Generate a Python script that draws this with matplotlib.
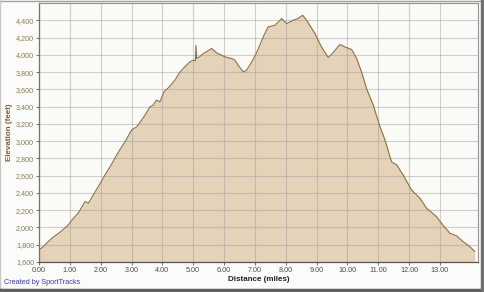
import matplotlib
matplotlib.use("Agg")
import matplotlib.pyplot as plt
from matplotlib.lines import Line2D
from matplotlib.ticker import FuncFormatter, MultipleLocator

# elevation profile (miles, feet)
dist = [0.00, 0.08, 0.17, 0.40, 0.70, 0.95, 1.10, 1.27, 1.49, 1.60, 1.76, 1.95,
        2.14, 2.30, 2.46, 2.62, 2.79, 3.00, 3.17, 3.30, 3.44, 3.60, 3.70, 3.81,
        3.92, 4.06, 4.20, 4.41, 4.55, 4.68, 4.89, 5.00, 5.07, 5.09, 5.11, 5.20,
        5.33, 5.45, 5.60, 5.76, 5.90, 6.03, 6.25, 6.35, 6.46, 6.62, 6.73, 6.90,
        7.05, 7.16, 7.30, 7.43, 7.65, 7.87, 8.03, 8.24, 8.40, 8.55, 8.68, 8.80,
        8.95, 9.16, 9.38, 9.50, 9.60, 9.76, 9.92, 10.14, 10.30, 10.46, 10.62,
        10.84, 11.05, 11.22, 11.43, 11.60, 11.81, 12.08, 12.35, 12.57, 12.89,
        13.05, 13.32, 13.54, 13.75, 13.97, 14.13]
elev = [1750, 1760, 1790, 1870, 1950, 2030, 2100, 2165, 2300, 2281, 2377, 2490,
        2608, 2700, 2801, 2900, 2993, 3128, 3167, 3230, 3302, 3398, 3417, 3475,
        3456, 3575, 3620, 3706, 3790, 3842, 3918, 3938, 3930, 4110, 3957, 3975,
        4015, 4040, 4073, 4022, 4000, 3976, 3957, 3938, 3880, 3802, 3822, 3918,
        4020, 4111, 4230, 4323, 4342, 4420, 4362, 4400, 4420, 4458, 4400, 4330,
        4246, 4091, 3969, 4010, 4053, 4119, 4091, 4061, 3957, 3802, 3610,
        3417, 3175, 3013, 2762, 2724, 2608, 2435, 2339, 2223, 2126,
        2050, 1934, 1903, 1837, 1779, 1721]

fig = plt.figure(figsize=(4.84, 2.92), dpi=100)
fig.patch.set_facecolor("#FBFBF9")
ax = fig.add_axes([0.0806, 0.1027, 0.906, 0.887])
ax.set_facecolor("#FAFAF7")

ax.fill_between(dist, 1600, elev, color="#E4D3B8", lw=0, zorder=1)
ax.plot(dist, elev, color="#8A7048", lw=0.8, zorder=3)

ax.set_xlim(0, 14.22)
ax.set_ylim(1600, 4600)
ax.xaxis.set_major_locator(MultipleLocator(1))
ax.yaxis.set_major_locator(MultipleLocator(200))
ax.set_xticks([i for i in range(14)])
ax.set_yticks(list(range(1600, 4401, 200)))
ax.xaxis.set_major_formatter(FuncFormatter(lambda v, p: f"{v:.2f}"))
ax.yaxis.set_major_formatter(FuncFormatter(lambda v, p: f"{int(v):,}"))

ax.grid(True, color="#9A9A9A", alpha=0.45, lw=0.8, zorder=2)
ax.set_axisbelow(False)
for s in ["top", "right"]:
    ax.spines[s].set_color("#909090")
    ax.spines[s].set_linewidth(0.8)
for s in ["left", "bottom"]:
    ax.spines[s].set_color("#555555")
    ax.spines[s].set_linewidth(0.9)

ax.tick_params(axis="both", length=2, width=0.6, pad=1.5, color="#555555")
for t in ax.get_yticklabels():
    t.set_fontsize(5.2); t.set_color("#8C7B55"); t.set_family("Liberation Sans")
for t in ax.get_xticklabels():
    t.set_fontsize(5.2); t.set_color("#4A4A4A"); t.set_family("Liberation Sans")

ax.set_xlabel("Distance (miles)", fontsize=5.8, weight="bold", family="Liberation Sans",
              color="#222222", labelpad=1.5)
ax.set_ylabel("Elevation (feet)", fontsize=5.8, weight="bold", family="Liberation Sans",
              color="#7A6330", labelpad=2)

fig.text(0.008, 0.02, "Created by SportTracks", fontsize=5.2, color="#3A3AA8",
         family="Liberation Sans", ha="left", va="bottom")

# frame with shadow round the picture
fig.add_artist(Line2D([0, 1], [0.998, 0.998], transform=fig.transFigure, color="#A0A0A0", lw=1))
fig.add_artist(Line2D([0.001, 0.001], [0, 1], transform=fig.transFigure, color="#C8C8C8", lw=1))
fig.add_artist(Line2D([0, 1], [0.006, 0.006], transform=fig.transFigure, color="#606060", lw=2.5))
fig.add_artist(Line2D([0.995, 0.995], [0, 1], transform=fig.transFigure, color="#707070", lw=2.5))

fig.savefig("out.png", dpi=100, facecolor=fig.get_facecolor())
